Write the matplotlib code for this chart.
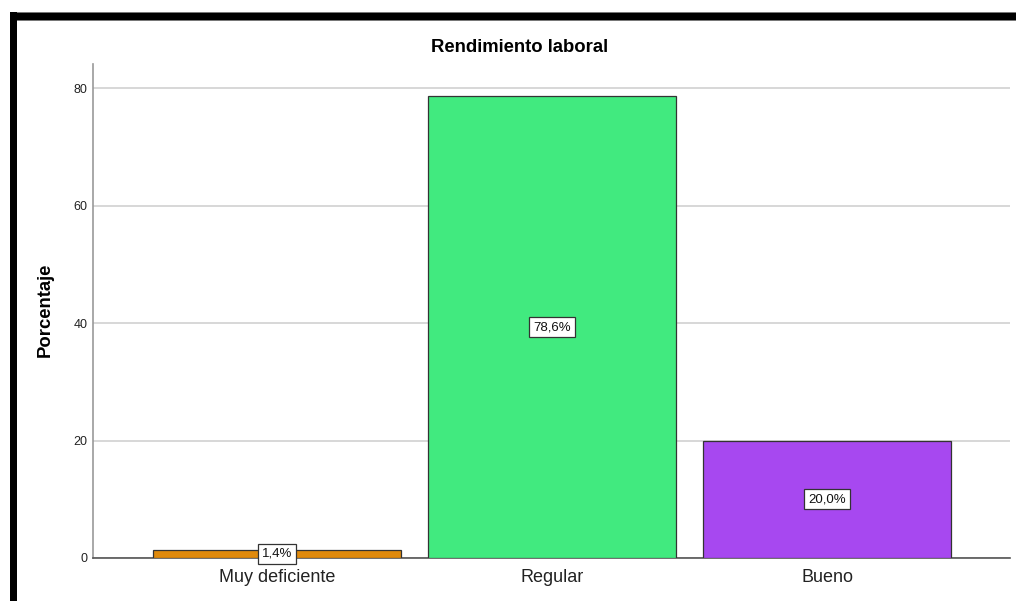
import matplotlib.pyplot as plt
from matplotlib.patches import Rectangle

categorias = ["Muy deficiente", "Regular", "Bueno"]
porcentajes = [1.4, 78.6, 20.0]
etiquetas = ["1,4%", "78,6%", "20,0%"]
colores = ["#e08a0c", "#41ea7f", "#a748f0"]
y_ticks = [0, 20, 40, 60, 80]

plt.rcParams['font.family'] = ['Liberation Sans', 'DejaVu Sans']

fig = plt.figure(figsize=(10.16, 6.01), dpi=100)
ax = fig.add_axes([93/1016, 1 - 558/601, (1010 - 93)/1016, (558 - 64)/601])

# marco negro (arriba e izquierda)
fig.patches.append(Rectangle((10/1016, 1 - 20/601), 1, 8/601, transform=fig.transFigure,
                             facecolor="black", edgecolor="#777777", linewidth=0.6))
fig.patches.append(Rectangle((10/1016, 0), 7/1016, 1 - 12/601, transform=fig.transFigure,
                             facecolor="black", edgecolor="none"))

x = range(len(categorias))
ax.bar(x, porcentajes, width=0.902, color=colores, edgecolor="#333333", linewidth=0.9, zorder=3)

# etiquetas en el centro de cada barra
for i, (v, t) in enumerate(zip(porcentajes, etiquetas)):
    ax.text(i, v / 2, t, ha="center", va="center", fontsize=9.5, color="#111111", zorder=4,
            clip_on=False,
            bbox=dict(boxstyle="square,pad=0.3", facecolor="white", edgecolor="#333333", linewidth=0.9))

ax.set_xlim(-0.669, 2.665)
ax.set_ylim(0, 84.1)
ax.set_yticks(y_ticks)
ax.set_xticks(list(x))
ax.set_xticklabels(categorias, fontsize=13, color="#222222")
ax.tick_params(axis="y", length=0, pad=4, labelsize=9, labelcolor="#222222")
ax.tick_params(axis="x", length=0, pad=8)
ax.yaxis.grid(True, color="#d4d4d4", linewidth=1.3, zorder=0)
ax.set_axisbelow(True)

for s in ["top", "right"]:
    ax.spines[s].set_visible(False)
ax.spines["left"].set_color("#999999")
ax.spines["bottom"].set_color("#555555")
ax.spines["left"].set_linewidth(1.2)
ax.spines["bottom"].set_linewidth(1.2)

fig.text(520/1016, 1 - 48/601, "Rendimiento laboral", fontsize=13.3, fontweight="bold",
         ha="center", va="center")
fig.text(45/1016, 1 - 310/601, "Porcentaje", fontsize=13.3, fontweight="bold",
         ha="center", va="center", rotation=90)

fig.savefig("out.png", dpi=100)
